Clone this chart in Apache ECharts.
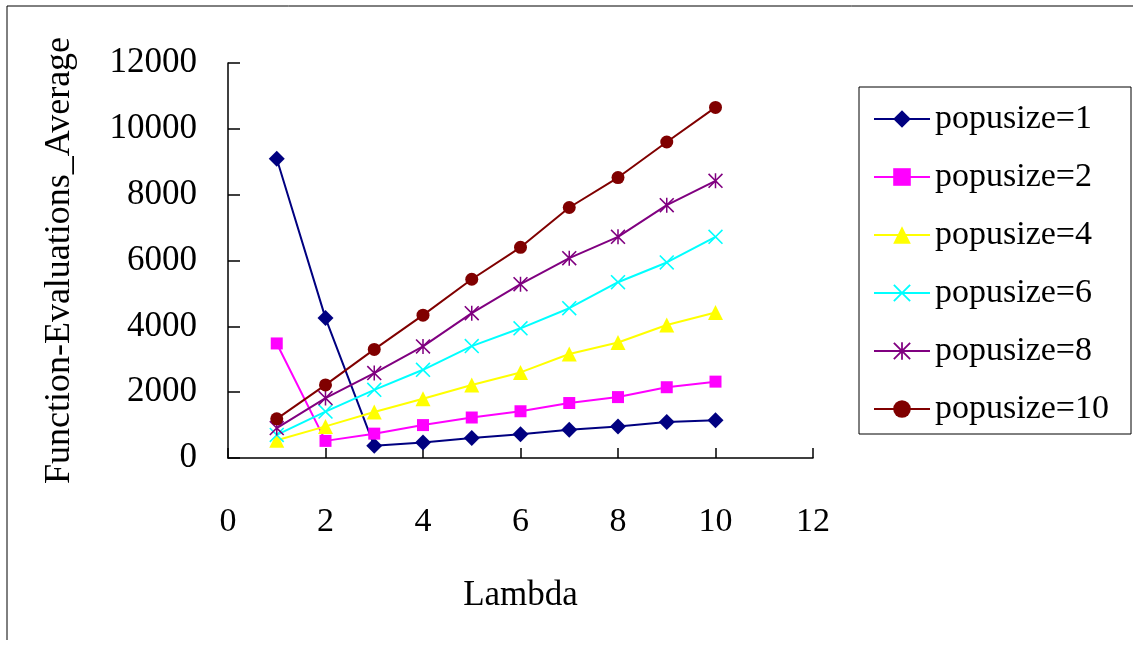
<!DOCTYPE html>
<html>
<head>
<meta charset="utf-8">
<script src="https://cdn.jsdelivr.net/npm/echarts@6/dist/echarts.min.js"></script>
<style>
html,body{margin:0;padding:0;background:#fff;}
#c{width:1133px;height:646px;}
</style>
</head>
<body>
<div id="c"></div>
<script>
const lambda = [1, 2, 3, 4, 5, 6, 7, 8, 9, 10];
const seriesNames = ['popusize=1', 'popusize=2', 'popusize=4', 'popusize=6', 'popusize=8', 'popusize=10'];
const p1 = [9090, 4250, 370, 470, 610, 720, 860, 960, 1090, 1150];
const p2 = [3480, 520, 740, 1000, 1230, 1420, 1670, 1850, 2150, 2320];
const p4 = [540, 960, 1400, 1800, 2220, 2600, 3160, 3510, 4040, 4420];
const p6 = [700, 1410, 2070, 2680, 3400, 3940, 4550, 5340, 5940, 6720];
const p8 = [910, 1820, 2580, 3390, 4400, 5280, 6070, 6720, 7680, 8420];
const p10 = [1190, 2220, 3300, 4340, 5430, 6400, 7610, 8520, 9600, 10650];
const xTicks = [0, 2, 4, 6, 8, 10, 12];
const yTicks = [0, 2000, 4000, 6000, 8000, 10000, 12000];

const values = [p1, p2, p4, p6, p8, p10];
const colors = ['#000080', '#FF00FF', '#FFFF00', '#00FFFF', '#800080', '#800000'];
const X_PATH = 'path://M0,1.5L1.5,0L10,8.5L18.5,0L20,1.5L11.5,10L20,18.5L18.5,20L10,11.5L1.5,20L0,18.5L8.5,10Z';
const AST_PATH = 'path://M0,1.5L1.5,0L10,8.5L18.5,0L20,1.5L11.5,10L20,18.5L18.5,20L10,11.5L1.5,20L0,18.5L8.5,10ZM9,0L11,0L11,20L9,20Z';
const symbols = ['diamond', 'rect', 'triangle', X_PATH, AST_PATH, 'circle'];
const symbolSizes = [16, 12, 15, 15, 15, 13];
const FONT = '"Liberation Serif", "Times New Roman", serif';

const chart = echarts.init(document.getElementById('c'), null, {renderer: 'canvas'});
chart.setOption({
  backgroundColor: '#fff',
  animation: false,
  textStyle: {fontFamily: FONT, color: '#000'},
  grid: {left: 228, right: 320, top: 63, bottom: 188, containLabel: false},
  xAxis: {
    type: 'value', min: 0, max: 12, interval: 2,
    name: 'Lambda', nameLocation: 'middle', nameGap: 120,
    nameTextStyle: {fontFamily: FONT, fontSize: 35, color: '#000'},
    axisLine: {show: true, onZero: false, lineStyle: {color: '#000', width: 1.5}},
    axisTick: {show: true, inside: true, length: 10, lineStyle: {color: '#000', width: 1.5}},
    axisLabel: {fontFamily: FONT, fontSize: 34, color: '#000', margin: 47,
      formatter: v => xTicks.indexOf(v) >= 0 ? String(v) : ''},
    splitLine: {show: false}
  },
  yAxis: {
    type: 'value', min: 0, max: 12000, interval: 2000,
    name: 'Function-Evaluations_Average', nameLocation: 'middle', nameGap: 150,
    nameTextStyle: {fontFamily: FONT, fontSize: 36, color: '#000'},
    axisLine: {show: true, lineStyle: {color: '#000', width: 1.5}},
    axisTick: {show: true, inside: true, length: 12, lineStyle: {color: '#000', width: 1.5}},
    axisLabel: {fontFamily: FONT, fontSize: 35, color: '#000', margin: 31,
      formatter: v => yTicks.indexOf(v) >= 0 ? String(v) : ''},
    splitLine: {show: false}
  },
  legend: {
    orient: 'vertical', left: 873, top: 99, padding: 0,
    itemWidth: 56, itemHeight: 22, itemGap: 18,
    textStyle: {fontFamily: FONT, fontSize: 34, color: '#000', lineHeight: 40},
    data: seriesNames
  },
  graphic: [
    {type: 'rect', shape: {x: 859, y: 87, width: 272, height: 347}, style: {fill: 'none', stroke: '#000', lineWidth: 1}, silent: true},
    {type: 'line', shape: {x1: 7, y1: 6, x2: 1133, y2: 6}, style: {stroke: '#000', lineWidth: 1}, silent: true},
    {type: 'line', shape: {x1: 7, y1: 6, x2: 7, y2: 640}, style: {stroke: '#000', lineWidth: 1}, silent: true}
  ],
  series: values.map((arr, i) => ({
    name: seriesNames[i],
    type: 'line',
    data: lambda.map((x, j) => [x, arr[j]]),
    symbol: symbols[i],
    symbolSize: symbolSizes[i],
    showAllSymbol: true,
    clip: false,
    lineStyle: {color: colors[i], width: 2},
    itemStyle: {color: colors[i], borderWidth: 0},
    emphasis: {disabled: true}
  }))
});
</script>
</body>
</html>
